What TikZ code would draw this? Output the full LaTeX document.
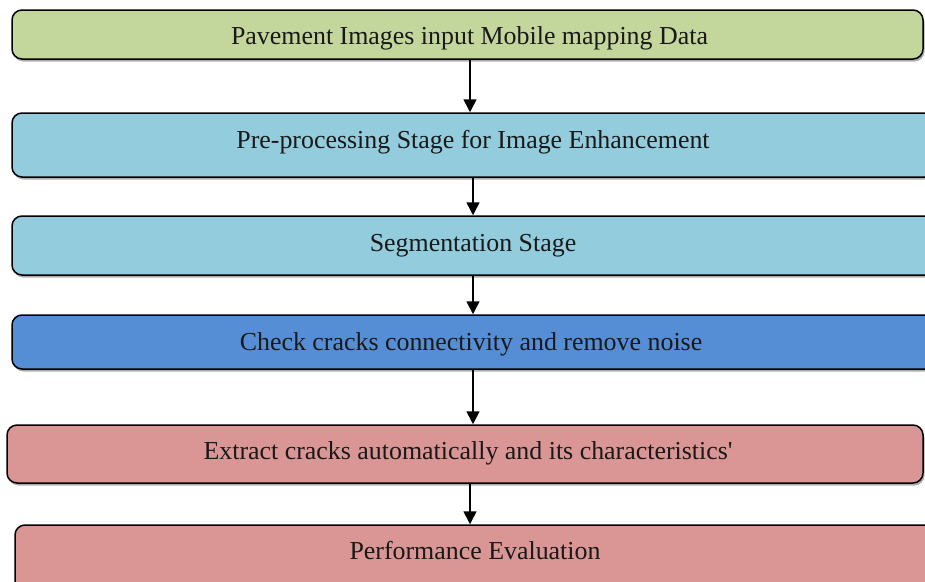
\documentclass[tikz,border=0pt]{standalone}
\usepackage{fontspec}
\setmainfont{Liberation Serif}
\usetikzlibrary{shadows,arrows.meta}
\definecolor{cgreen}{HTML}{C3D69B}
\definecolor{clblue}{HTML}{93CDDD}
\definecolor{cblue}{HTML}{558ED5}
\definecolor{cpink}{HTML}{D99694}
\begin{document}
\begin{tikzpicture}[x=1pt,y=-1pt,
  box/.style={draw=black,line width=1.5pt,rounded corners=10pt,inner sep=0pt,
    drop shadow={shadow xshift=1.5pt,shadow yshift=-2.5pt,fill=black!40,opacity=0.8}},
  lbl/.style={anchor=base,inner sep=0pt,font=\fontsize{25.9}{28}\selectfont,text=black!90},
  arr/.style={line width=1.6pt,-{Triangle[length=13pt,width=13pt]}}]
\useasboundingbox (0,0) rectangle (925,581);
\begin{scope}
\clip (0,0) rectangle (925,581);
\node[box,fill=cgreen,minimum width=911pt,minimum height=49pt] (b1) at (467.5,34.5) {};
\node[box,fill=clblue,minimum width=923pt,minimum height=64pt] (b2) at (473.5,145) {};
\node[box,fill=clblue,minimum width=923pt,minimum height=59pt] (b3) at (473.5,245.5) {};
\node[box,fill=cblue,minimum width=923pt,minimum height=54pt] (b4) at (473.5,342) {};
\node[box,fill=cpink,minimum width=916pt,minimum height=58pt] (b5) at (465,454) {};
\node[box,fill=cpink,minimum width=920pt,minimum height=80pt] (b6) at (475,565) {};
\end{scope}
\node[lbl] (t1) at (469.5,44.5) {Pavement Images input Mobile mapping Data};
\node[lbl] (t2) at (473,148) {Pre-processing Stage for Image Enhancement};
\node[lbl] (t3) at (473,251) {Segmentation Stage};
\node[lbl] (t4) at (471,350) {Check cracks connectivity and remove noise};
\node[lbl] (t5) at (468,459) {Extract cracks automatically and its characteristics\textquotesingle};
\node[lbl] (t6) at (475,559) {Performance Evaluation};
\draw[arr] (b1.south -| 470,0) -- (b2.north -| 470,0);
\draw[arr] (b2.south -| 473,0) -- (b3.north -| 473,0);
\draw[arr] (b3.south -| 473,0) -- (b4.north -| 473,0);
\draw[arr] (b4.south -| 473,0) -- (b5.north -| 473,0);
\draw[arr] (b5.south -| 470,0) -- (b6.north -| 470,0);
\end{tikzpicture}
\end{document}
